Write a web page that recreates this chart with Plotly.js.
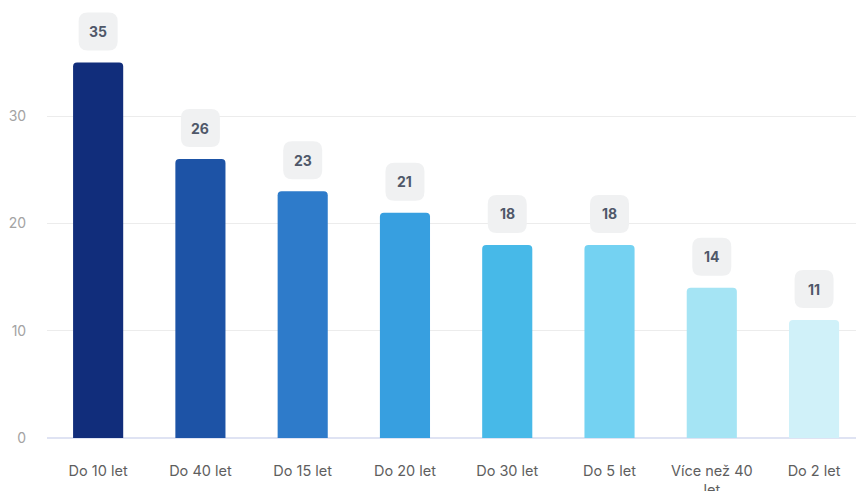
<!DOCTYPE html>
<html>
<head>
<meta charset="utf-8">
<script src="https://cdn.plot.ly/plotly-3.0.1.min.js"></script>
<style>html,body{margin:0;padding:0;background:#fff;overflow:hidden;}#chart{width:856px;height:491px;}</style>
</head>
<body>
<div id="chart"></div>
<script>
const categories = ["Do 10 let", "Do 40 let", "Do 15 let", "Do 20 let", "Do 30 let", "Do 5 let", "Více než 40<br>let", "Do 2 let"];
const values = [35, 26, 23, 21, 18, 18, 14, 11];
const barColors = ["#112d7b", "#1d53a6", "#2e7bca", "#379fe0", "#47b9e8", "#74d2f2", "#a5e4f4", "#d0f1f9"];

const trace = {
  type: "bar",
  x: categories.map((c, i) => i),
  y: values,
  marker: { color: barColors, cornerradius: 4, line: { width: 0 } },
  hoverinfo: "none"
};

function roundedRect(x0, y0, x1, y1, r) {
  return `M ${x0 + r},${y0} L ${x1 - r},${y0} Q ${x1},${y0} ${x1},${y0 + r} L ${x1},${y1 - r} Q ${x1},${y1} ${x1 - r},${y1} L ${x0 + r},${y1} Q ${x0},${y1} ${x0},${y1 - r} L ${x0},${y0 + r} Q ${x0},${y0} ${x0 + r},${y0} Z`;
}
const shapes = values.map((v, i) => ({
  type: "path",
  xref: "x", yref: "y",
  xsizemode: "pixel", ysizemode: "pixel",
  xanchor: i, yanchor: v,
  path: roundedRect(-19.5, 12, 19.5, 50, 9),
  fillcolor: "#f0f1f2",
  line: { width: 0 },
  layer: "above"
}));
const annotations = values.map((v, i) => ({
  x: i, y: v, xref: "x", yref: "y",
  text: "<b>" + v + "</b>",
  showarrow: false,
  yshift: 31,
  font: { family: "Inter, 'Noto Sans', sans-serif", size: 14, color: "#4f5869" }
}));

const layout = {
  width: 856, height: 491,
  margin: { l: 47, r: 0, t: 10, b: 53 },
  paper_bgcolor: "#ffffff",
  plot_bgcolor: "#ffffff",
  bargap: 0.51,
  showlegend: false,
  font: { family: "Inter, 'Noto Sans', sans-serif" },
  xaxis: {
    range: [-0.5, 7.41],
    tickvals: categories.map((c, i) => i),
    ticktext: categories,
    ticks: "outside", ticklen: 20, tickcolor: "rgba(0,0,0,0)",
    tickfont: { size: 14.5, color: "#5e5e5e" },
    showgrid: false, zeroline: false, showline: false,
    fixedrange: true
  },
  yaxis: {
    range: [0, 39.9],
    tickvals: [0, 10, 20, 30],
    ticks: "outside", ticklen: 17, tickcolor: "rgba(0,0,0,0)",
    tickfont: { size: 14, color: "#a3a3a3" },
    gridcolor: "#ececec", gridwidth: 1,
    zeroline: true, zerolinecolor: "#dfe3f3", zerolinewidth: 2,
    showline: false,
    fixedrange: true
  },
  shapes: shapes,
  annotations: annotations
};

Plotly.newPlot("chart", [trace], layout, { displayModeBar: false, staticPlot: true });
</script>
</body>
</html>
